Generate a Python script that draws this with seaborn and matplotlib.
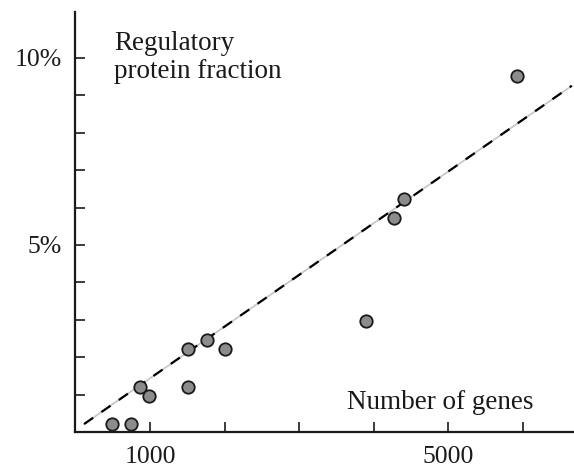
import numpy as np
import pandas as pd
import seaborn as sns
import matplotlib.pyplot as plt

# Genome size vs fraction of regulatory proteins
genes = [486, 741, 866, 991, 1506, 1761, 2011, 1506, 3899, 4275, 4409, 5922]
reg_fraction = [0.22, 0.22, 1.22, 0.97, 2.22, 2.46, 2.22, 1.22, 2.97, 5.73, 6.23, 9.50]

# dashed trend line end points
fit_x = [115, 6660]
fit_y = [0.22, 9.25]

x_ticks = [1000, 2000, 3000, 4000, 5000, 6000]
x_labels = ["1000", "", "", "", "5000", ""]
y_ticks = [1, 2, 3, 4, 5, 6, 7, 8, 9, 10]
y_labels = ["", "", "", "", "5%", "", "", "", "", "10%"]

df = pd.DataFrame({"genes": genes, "frac": reg_fraction})
fit = pd.DataFrame({"x": fit_x, "y": fit_y})

sns.set_theme(style="ticks")
plt.rcParams['font.family'] = ['Liberation Serif', 'DejaVu Serif']

fig = plt.figure(figsize=(5.74, 4.70), dpi=100)
ax = fig.add_axes([0.1315, 0.0802, 0.8685, 0.8943])

# light grey line under black dashes
sns.lineplot(data=fit, x="x", y="y", ax=ax, color="#c4c4c4", linewidth=1.2)
sns.lineplot(data=fit, x="x", y="y", ax=ax, color="black", linewidth=1.6,
             dashes=False, linestyle=(0, (5, 4.5)))

sns.scatterplot(data=df, x="genes", y="frac", ax=ax, s=80, color="#8c8c8c",
                edgecolor="#1a1a1a", linewidth=1.3, zorder=5)

ax.set_xlim(0, 6690)
ax.set_ylim(0, 11.22)
ax.set_xticks(x_ticks)
ax.set_xticklabels(x_labels)
ax.set_yticks(y_ticks)
ax.set_yticklabels(y_labels)
ax.tick_params(direction="in", length=7, width=1.2, labelsize=18.5, pad=10,
               color="#1a1a1a", labelcolor="#1a1a1a", bottom=True, left=True)
ax.set_xlabel("")
ax.set_ylabel("")

sns.despine(ax=ax)
for side in ["left", "bottom"]:
    ax.spines[side].set_linewidth(1.6)
    ax.spines[side].set_color("#1a1a1a")

# labels placed in pixel coords (origin bottom-left)
ax.text(114, 420, "Regulatory", transform=None, fontsize=19.5,
        color="#1a1a1a", va="baseline")
ax.text(114, 392, "protein fraction", transform=None, fontsize=19.5,
        color="#1a1a1a", va="baseline")
ax.text(347, 61, "Number of genes", fontsize=19.5, color="#1a1a1a", va="baseline",
        transform=None)

fig.savefig("out.png", dpi=100)
